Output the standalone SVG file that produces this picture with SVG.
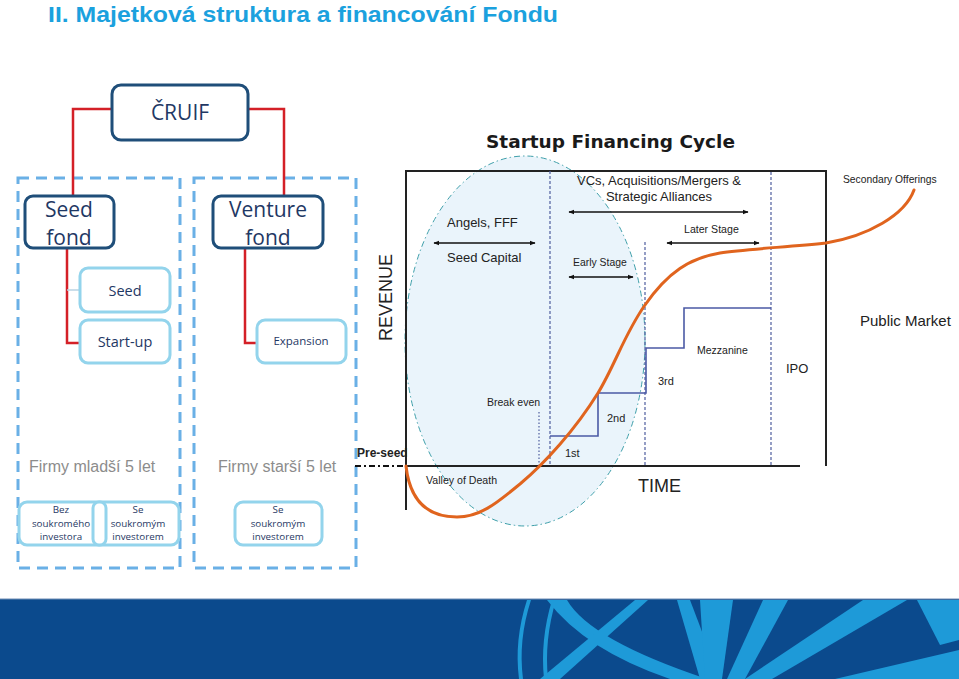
<svg xmlns="http://www.w3.org/2000/svg" width="959" height="679" viewBox="0 0 959 679">
<defs>
<style>
.ttl{font-family:"Liberation Sans",Arial,sans-serif;font-weight:bold;fill:#1BA1DE}
.dk{fill:none;stroke:#1F4E79;stroke-width:3}
.lt{fill:#fff;stroke:#93D4EC;stroke-width:3}
.grp{fill:none;stroke:#6AB0E6;stroke-width:3;stroke-dasharray:11 7}
.red{fill:none;stroke:#D42027;stroke-width:2.5}
.big{font-family:"Open Sans","Liberation Sans",sans-serif;fill:#1F3864;text-anchor:middle}
.gr{font-family:"Liberation Sans",Arial,sans-serif;fill:#8C8C8C;font-size:16px}
.sm{font-family:"Open Sans","Liberation Sans",sans-serif;fill:#1F3864;font-size:9.8px;text-anchor:middle}
.ch{font-family:"Liberation Sans",Arial,sans-serif;fill:#222}
.ax{stroke:#222;stroke-width:2;fill:none}
.vd{stroke:#4F5E9E;stroke-width:1.2;stroke-dasharray:3 2;fill:none}
.arr{stroke:#111;stroke-width:1.5;fill:none;marker-start:url(#ah);marker-end:url(#ah)}
.lb{fill:#1E9AD8}
</style>
<marker id="ah" viewBox="0 0 10 10" refX="9" refY="5" markerWidth="6" markerHeight="6" orient="auto-start-reverse" markerUnits="userSpaceOnUse"><path d="M0,1 L10,5 L0,9 Z" fill="#111"/></marker>
</defs>
<rect width="959" height="679" fill="#fff"/>

<text class="ttl" x="48" y="21.5" font-size="22" textLength="510" lengthAdjust="spacingAndGlyphs">II. Majetková struktura a financování Fondu</text>

<!-- group frames -->
<g id="group-young"><rect class="grp" x="18" y="178" width="162" height="390"/></g>
<g id="group-old"><rect class="grp" x="194" y="178" width="162" height="390"/></g>

<g id="connectors">
<polyline class="red" points="112,109 73,109 73,197"/>
<polyline class="red" points="248,109 284,109 284,197"/>
<polyline class="red" points="67,248 67,343 80,343"/>
<line x1="67" y1="290" x2="80" y2="290" stroke="#B8D3E3" stroke-width="1.5"/>
<polyline class="red" points="245,248 245,343 257,343"/>
</g>

<g id="cruif"><rect class="dk" x="112" y="85" width="136" height="55" rx="9"/><text class="big" x="180" y="120" font-size="21">ČRUIF</text></g>
<g id="seed-fond"><rect class="dk" x="25" y="196" width="89" height="52" rx="8"/><text class="big" x="69" y="217" font-size="21">Seed</text><text class="big" x="69" y="245" font-size="21">fond</text></g>
<g id="venture-fond"><rect class="dk" x="213" y="196" width="110" height="52" rx="8"/><text class="big" x="268" y="217" font-size="21">Venture</text><text class="big" x="268" y="245" font-size="21">fond</text></g>
<g id="seed"><rect class="lt" x="80" y="268" width="90" height="44" rx="8"/><text class="big" x="125" y="296" font-size="14.5">Seed</text></g>
<g id="startup"><rect class="lt" x="80" y="320" width="90" height="43" rx="8"/><text class="big" x="125" y="347" font-size="14.5">Start-up</text></g>
<g id="expansion"><rect class="lt" x="257" y="320" width="89" height="43" rx="8"/><text class="big" x="301" y="345" font-size="11.5">Expansion</text></g>

<text class="gr" x="29" y="472">Firmy mladší 5 let</text>
<text class="gr" x="218" y="472">Firmy starší 5 let</text>

<g id="bez"><rect class="lt" x="19" y="502" width="160" height="43" rx="8"/>
<rect class="lt" x="93" y="502" width="13" height="43" rx="6"/>
<text class="sm" x="61" y="513">Bez</text><text class="sm" x="61" y="527">soukromého</text><text class="sm" x="61" y="540">investora</text>
<text class="sm" x="138" y="513">Se</text><text class="sm" x="138" y="527">soukromým</text><text class="sm" x="138" y="540">investorem</text></g>
<g id="se-old"><rect class="lt" x="235" y="502" width="87" height="43" rx="8"/>
<text class="sm" x="278" y="513">Se</text><text class="sm" x="278" y="527">soukromým</text><text class="sm" x="278" y="540">investorem</text></g>

<!-- chart -->
<g id="chart">
<text x="486" y="148" font-family="DejaVu Sans,Verdana,sans-serif" font-weight="bold" font-size="18.5" fill="#1a1a1a">Startup Financing Cycle</text>
<ellipse cx="525" cy="341" rx="120" ry="185" fill="#EAF4FB" stroke="#3E9FAA" stroke-width="1" stroke-dasharray="6 3 1.5 3"/>
<polyline class="ax" points="406,510 406,171 826,171 826,466"/>
<line class="ax" x1="406" y1="466" x2="800" y2="466"/>
<line x1="355" y1="466" x2="406" y2="466" stroke="#111" stroke-width="2" stroke-dasharray="6 3 2 3"/>
<text class="ch" x="357" y="457" font-size="12" font-weight="bold">Pre-seed</text>
<line class="ax" x1="406" y1="440" x2="406" y2="510"/>
<line class="vd" x1="550" y1="171" x2="550" y2="466"/>
<line class="vd" x1="645" y1="242" x2="645" y2="466"/>
<line class="vd" x1="771" y1="172" x2="771" y2="466"/>
<line x1="539" y1="412" x2="539" y2="466" stroke="#4F5E9E" stroke-width="1.2" stroke-dasharray="1.5 2"/>
<text transform="rotate(-90 392 297.5)" x="392" y="297.5" class="ch" font-size="18" text-anchor="middle">REVENUE</text>
<text class="ch" x="447" y="227" font-size="13">Angels, FFF</text>
<line class="arr" x1="434" y1="243" x2="535" y2="243"/>
<text class="ch" x="447" y="262" font-size="13">Seed Capital</text>
<text class="ch" x="659" y="185" font-size="13" text-anchor="middle">VCs, Acquisitions/Mergers &amp;</text>
<text class="ch" x="659" y="201" font-size="13" text-anchor="middle">Strategic Alliances</text>
<line class="arr" x1="569" y1="212" x2="748" y2="212"/>
<text class="ch" x="684" y="233" font-size="10.6">Later Stage</text>
<line class="arr" x1="667" y1="243" x2="759" y2="243"/>
<text class="ch" x="573" y="266" font-size="10.4">Early Stage</text>
<line class="arr" x1="569" y1="277" x2="633" y2="277"/>
<polyline points="550,436 598,436 598,393 646,393 646,348 684,348 684,308 771,308" fill="none" stroke="#4B5AA5" stroke-width="1.6"/>
<text class="ch" x="565" y="457" font-size="11">1st</text>
<text class="ch" x="607" y="422" font-size="11">2nd</text>
<text class="ch" x="658" y="385" font-size="11">3rd</text>
<text class="ch" x="697" y="354" font-size="10.5">Mezzanine</text>
<text class="ch" x="786" y="373" font-size="13">IPO</text>
<text class="ch" x="487" y="406" font-size="10.5">Break even</text>
<text class="ch" x="426" y="484" font-size="10.6">Valley of Death</text>
<text class="ch" x="638" y="492" font-size="18">TIME</text>
<text class="ch" x="843" y="183" font-size="10.3">Secondary Offerings</text>
<text class="ch" x="860" y="326" font-size="15">Public Market</text>
<path d="M406,466 C410,502 428,517 457,517 C482,517 500,500 520,484 C545,463 575,430 598,393 C615,365 625,333 645,305 C668,272 690,258 720,253 C745,249 790,247 826,243 C868,236 905,215 914,190" fill="none" stroke="#E0641E" stroke-width="3" stroke-linecap="round"/>
</g>

<!-- banner -->
<g id="banner">
<rect x="0" y="599" width="959" height="80" fill="#0B4A8D"/>
<line x1="0" y1="599" x2="959" y2="599" stroke="#6F8DB5" stroke-width="1"/>
<path class="lb" d="M527,600 Q514,640 519,679 L523,679 Q518,640 531,600 Z"/>
<path class="lb" d="M552,600 Q540,640 544,679 L548,679 Q544,640 556,600 Z"/>
<path class="lb" d="M547,600 L567,600 Q590,640 707,679 L670,679 Q585,650 547,600 Z"/>
<path class="lb" d="M635,600 L648,600 L560,679 L540,679 Z"/>
<path class="lb" d="M677,600 L690,600 L720,679 L700,679 Z"/>
<path class="lb" d="M700,600 L733,600 L722,679 L705,679 Z"/>
<path class="lb" d="M763,600 L788,600 L745,679 L727,679 Z"/>
<path class="lb" d="M863,600 L907,600 L772,679 L745,679 Z"/>
<path class="lb" d="M917,600 L959,600 L959,640 L940,645 Z"/>
<path class="lb" d="M835,679 L959,650 L959,679 Z"/>
</g>
</svg>
